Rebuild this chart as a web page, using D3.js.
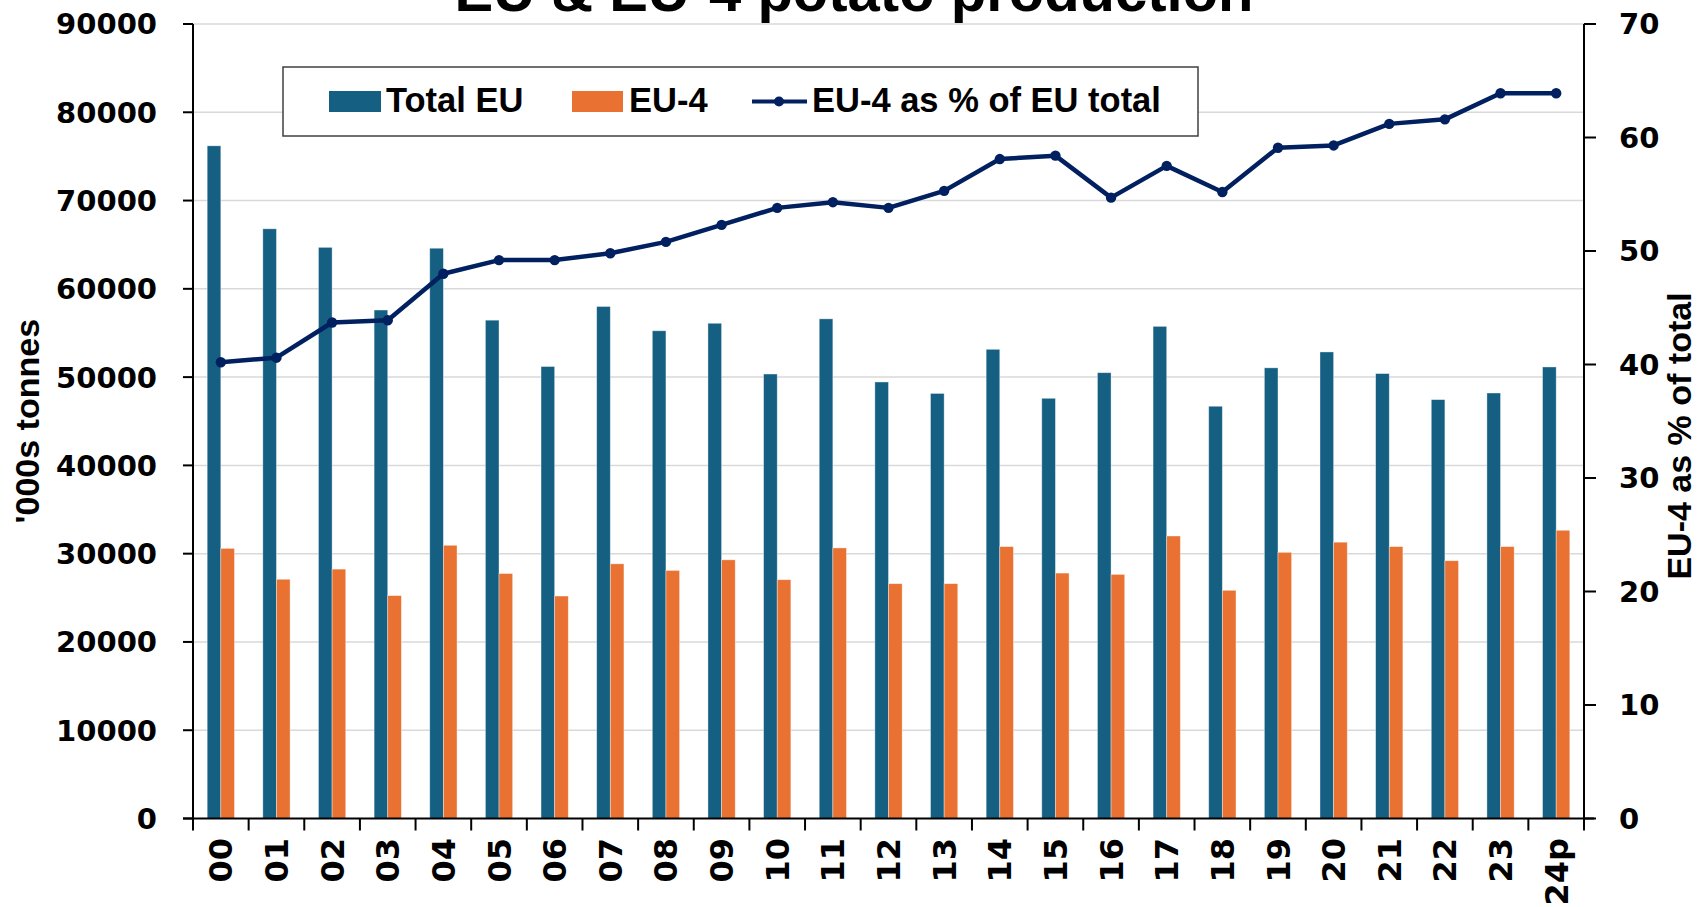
<!DOCTYPE html>
<html lang="en">
<head>
<meta charset="UTF-8">
<title>EU & EU-4 potato production</title>
<style>
  body { margin: 0; background: #fff; }
  .lbl { font-family: "Liberation Sans", Arial, sans-serif; font-weight: bold; fill: #000; }
  .tick-lbl { font-family: "DejaVu Sans", Verdana, sans-serif; font-weight: bold; fill: #000; }
</style>
</head>
<body>
<div id="chart"></div>
<script src="https://cdn.jsdelivr.net/npm/d3@7/dist/d3.min.js"></script>
<script>
const years = ["00","01","02","03","04","05","06","07","08","09","10","11","12",
               "13","14","15","16","17","18","19","20","21","22","23","24p"];
const totalEU = [76200, 66800, 64700, 57600, 64600, 56450, 51200, 58000, 55250, 56100, 50350, 56600, 49450,
                 48150, 53150, 47600, 50500, 55750, 46700, 51050, 52850, 50400, 47450, 48200, 51150];
const eu4 = [30600, 27100, 28250, 25250, 30950, 27750, 25200, 28850, 28100, 29300, 27050, 30650, 26600,
             26600, 30800, 27800, 27650, 32000, 25850, 30150, 31300, 30800, 29200, 30800, 32650];
const eu4Share = [40.2, 40.6, 43.7, 43.9, 48.0, 49.2, 49.2, 49.8, 50.8, 52.3, 53.8, 54.3, 53.8,
                  55.3, 58.1, 58.4, 54.7, 57.5, 55.2, 59.1, 59.3, 61.2, 61.6, 63.9, 63.9];
const leftTicks = [0, 10000, 20000, 30000, 40000, 50000, 60000, 70000, 80000, 90000];
const rightTicks = [0, 10, 20, 30, 40, 50, 60, 70];

const W = 1700, H = 907;
const plot = {left: 193, right: 1584, top: 24, bottom: 818.5};
const colTotal = "#156082", colEU4 = "#E97132", colLine = "#002060";

const svg = d3.select("#chart").append("svg")
  .attr("width", W).attr("height", H);

const x = d3.scaleBand().domain(years).range([plot.left, plot.right]).padding(0);
const yL = d3.scaleLinear().domain([0, 90000]).range([plot.bottom, plot.top]);
const yR = d3.scaleLinear().domain([0, 70]).range([plot.bottom, plot.top]);
const barW = x.bandwidth() * 0.245;

// gridlines
svg.append("g").selectAll("line").data(leftTicks.slice(1)).join("line")
  .attr("x1", plot.left).attr("x2", plot.right)
  .attr("y1", d => yL(d)).attr("y2", d => yL(d))
  .attr("stroke", "#d9d9d9").attr("stroke-width", 1.5);

// bars
const barData = years.map((y, i) => ({year: y, total: totalEU[i], eu4: eu4[i]}));
svg.append("g").selectAll("rect").data(barData).join("rect")
  .attr("x", d => x(d.year) + x.bandwidth() / 2 - barW)
  .attr("y", d => yL(d.total))
  .attr("width", barW)
  .attr("height", d => yL(0) - yL(d.total))
  .attr("fill", colTotal)
  .attr("stroke", "#ffffff").attr("stroke-opacity", 0.5).attr("stroke-width", 0.75);
svg.append("g").selectAll("rect").data(barData).join("rect")
  .attr("x", d => x(d.year) + x.bandwidth() / 2)
  .attr("y", d => yL(d.eu4))
  .attr("width", barW)
  .attr("height", d => yL(0) - yL(d.eu4))
  .attr("fill", colEU4)
  .attr("stroke", "#ffffff").attr("stroke-opacity", 0.5).attr("stroke-width", 0.75);

// share line
const lineData = years.map((y, i) => ({year: y, v: eu4Share[i]}));
const line = d3.line()
  .x(d => x(d.year) + x.bandwidth() / 2)
  .y(d => yR(d.v));
svg.append("path").datum(lineData)
  .attr("fill", "none").attr("stroke", colLine).attr("stroke-width", 4.5)
  .attr("stroke-linejoin", "round")
  .attr("d", line);
svg.append("g").selectAll("circle").data(lineData).join("circle")
  .attr("cx", d => x(d.year) + x.bandwidth() / 2)
  .attr("cy", d => yR(d.v))
  .attr("r", 5.2)
  .attr("fill", colLine);

// axes
const axisG = svg.append("g").attr("stroke", "#000").attr("stroke-width", 2);
axisG.append("line").attr("x1", plot.left).attr("x2", plot.left).attr("y1", plot.top).attr("y2", plot.bottom + 12);
axisG.append("line").attr("x1", plot.right).attr("x2", plot.right).attr("y1", plot.top).attr("y2", plot.bottom + 12);
axisG.append("line").attr("x1", plot.left - 10).attr("x2", plot.right + 10).attr("y1", plot.bottom).attr("y2", plot.bottom);
axisG.selectAll(".lt").data(leftTicks).join("line")
  .attr("x1", plot.left - 10).attr("x2", plot.left)
  .attr("y1", d => yL(d)).attr("y2", d => yL(d));
axisG.selectAll(".rt").data(rightTicks).join("line")
  .attr("x1", plot.right).attr("x2", plot.right + 12)
  .attr("y1", d => yR(d)).attr("y2", d => yR(d));
axisG.selectAll(".xt").data(years.slice(1)).join("line")
  .attr("x1", d => x(d)).attr("x2", d => x(d))
  .attr("y1", plot.bottom).attr("y2", plot.bottom + 12);

// tick labels
svg.append("g").selectAll("text").data(leftTicks).join("text")
  .attr("class", "tick-lbl")
  .attr("x", 157).attr("y", d => yL(d)).attr("dy", "0.36em")
  .attr("text-anchor", "end").attr("font-size", 29)
  .text(d => d);
svg.append("g").selectAll("text").data(rightTicks).join("text")
  .attr("class", "tick-lbl")
  .attr("x", 1619).attr("y", d => yR(d)).attr("dy", "0.36em")
  .attr("text-anchor", "start").attr("font-size", 29)
  .text(d => d);
svg.append("g").selectAll("text").data(years).join("text")
  .attr("class", "tick-lbl")
  .attr("transform", d => `translate(${x(d) + x.bandwidth() / 2},838) rotate(-90)`)
  .attr("dy", "0.36em")
  .attr("text-anchor", "end").attr("font-size", 32)
  .text(d => d);

// axis titles
svg.append("text").attr("class", "lbl")
  .attr("transform", `translate(27,${(plot.top + plot.bottom) / 2}) rotate(-90)`)
  .attr("dy", "0.36em").attr("text-anchor", "middle").attr("font-size", 34)
  .text("'000s tonnes");
svg.append("text").attr("class", "lbl")
  .attr("transform", `translate(1679,436) rotate(-90)`)
  .attr("dy", "0.36em").attr("text-anchor", "middle").attr("font-size", 34)
  .text("EU-4 as % of total");

// title (clipped at the top edge, as in the source)
svg.append("text").attr("class", "lbl")
  .attr("x", 854).attr("y", 11).attr("text-anchor", "middle").attr("font-size", 58)
  .text("EU & EU-4 potato production");

// legend
const lg = svg.append("g");
lg.append("rect").attr("x", 283).attr("y", 67).attr("width", 915).attr("height", 69)
  .attr("fill", "#fff").attr("stroke", "#404040").attr("stroke-width", 1.5);
lg.append("rect").attr("x", 329).attr("y", 91).attr("width", 52).attr("height", 21).attr("fill", colTotal);
lg.append("text").attr("class", "lbl").attr("x", 386).attr("y", 112).attr("font-size", 34.5).text("Total EU");
lg.append("rect").attr("x", 572).attr("y", 91).attr("width", 51).attr("height", 21).attr("fill", colEU4);
lg.append("text").attr("class", "lbl").attr("x", 629).attr("y", 112).attr("font-size", 34.5).text("EU-4");
lg.append("line").attr("x1", 752).attr("x2", 807).attr("y1", 101.5).attr("y2", 101.5)
  .attr("stroke", colLine).attr("stroke-width", 4);
lg.append("circle").attr("cx", 779).attr("cy", 101.5).attr("r", 5).attr("fill", colLine);
lg.append("text").attr("class", "lbl").attr("x", 812).attr("y", 112).attr("font-size", 34.5).text("EU-4 as % of EU total");
</script>
</body>
</html>
